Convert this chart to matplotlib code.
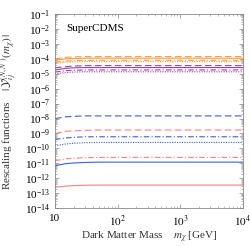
import matplotlib
matplotlib.use("Agg")
import matplotlib.pyplot as plt
import numpy as np

plt.rcParams['font.family'] = ['Liberation Serif', 'DejaVu Serif']
plt.rcParams['mathtext.fontset'] = 'stix'

# dark matter mass grid (GeV)
mass = [10, 15, 20, 30, 50, 100, 1e4]

# rescaling functions
orange_dash = [1.0e-4, 1.25e-4, 1.35e-4, 1.4e-4, 1.4e-4, 1.4e-4, 1.4e-4]
orange_solid = [8.0e-5, 1.0e-4, 1.05e-4, 1.1e-4, 1.1e-4, 1.1e-4, 1.1e-4]
orange_dashdot = [6.0e-5, 7.0e-5, 7.5e-5, 7.8e-5, 8.0e-5, 8.0e-5, 8.0e-5]
orange_dot = [5.0e-5, 6.0e-5, 6.3e-5, 6.5e-5, 6.5e-5, 6.5e-5, 6.5e-5]
purple_dash = [2.5e-5, 3.0e-5, 3.3e-5, 3.5e-5, 3.5e-5, 3.5e-5, 3.5e-5]
purple_solid = [1.8e-5, 2.3e-5, 2.5e-5, 2.6e-5, 2.6e-5, 2.6e-5, 2.6e-5]
purple_dashdot = [1.3e-5, 1.6e-5, 1.7e-5, 1.8e-5, 1.8e-5, 1.8e-5, 1.8e-5]
purple_dot = [1.0e-5, 1.2e-5, 1.3e-5, 1.35e-5, 1.35e-5, 1.35e-5, 1.35e-5]
blue_dash = [1.0e-8, 1.3e-8, 1.4e-8, 1.5e-8, 1.5e-8, 1.5e-8, 1.5e-8]
red_dash = [1.0e-9, 1.4e-9, 1.5e-9, 1.6e-9, 1.7e-9, 1.7e-9, 1.7e-9]
blue_dashdot = [4.0e-10, 5.0e-10, 5.5e-10, 6.0e-10, 6.0e-10, 6.0e-10, 6.0e-10]
blue_dot = [1.5e-10, 2.0e-10, 2.2e-10, 2.4e-10, 2.5e-10, 2.5e-10, 2.5e-10]
red_dashdot = [1.5e-11, 2.0e-11, 2.2e-11, 2.4e-11, 2.5e-11, 2.5e-11, 2.5e-11]
blue_solid = [7.0e-12, 9.5e-12, 1.05e-11, 1.15e-11, 1.2e-11, 1.2e-11, 1.2e-11]
red_solid = [2.5e-13, 3.0e-13, 3.2e-13, 3.4e-13, 3.5e-13, 3.5e-13, 3.5e-13]

orange = '#ff9a3a'
purple = '#a040a8'
blue = '#3a5ee0'
red = '#ff7f7f'

curves = [
    (orange_dash, orange, (0, (6, 3))),
    (orange_solid, orange, '-'),
    (orange_dashdot, orange, (0, (5, 2, 1, 2))),
    (orange_dot, orange, (0, (1, 1.2))),
    (purple_dash, purple, (0, (6, 3))),
    (purple_solid, purple, '-'),
    (purple_dashdot, purple, (0, (5, 2, 1, 2))),
    (purple_dot, purple, (0, (1, 1.2))),
    (blue_dash, blue, (0, (6, 3))),
    (red_dash, red, (0, (6, 3))),
    (blue_dashdot, blue, (0, (5, 2, 1, 2))),
    (blue_dot, blue, (0, (1, 1.2))),
    (red_dashdot, red, (0, (5, 2, 1, 2))),
    (blue_solid, blue, '-'),
    (red_solid, red, '-'),
]

fig = plt.figure(figsize=(2.51, 2.46), dpi=100)
ax = fig.add_axes([0.219, 0.154, 0.749, 0.789])

for vals, col, ls in curves:
    ax.plot(mass, vals, color=col, linestyle=ls, lw=0.8)

ax.set_xscale('log')
ax.set_yscale('log')
ax.set_xlim(10, 1e4)
ax.set_ylim(1e-14, 1e-1)
ax.set_yticks([10.0 ** k for k in range(-14, 0)])
ax.set_xticks([10, 100, 1000, 10000])
ax.set_xticklabels(['10', '$10^{2}$', '$10^{3}$', '$10^{4}$'])
ax.yaxis.set_minor_locator(matplotlib.ticker.LogLocator(base=10, subs=np.arange(2, 10), numticks=30))
ax.tick_params(which='both', direction='in', top=True, right=True, labelsize=8, color='#888888')
ax.tick_params(which='major', length=3, width=0.5)
ax.tick_params(which='minor', length=1.5, width=0.4)
ax.tick_params(axis='x', pad=4)
for s in ax.spines.values():
    s.set_linewidth(0.6)
    s.set_color('#888888')

ax.text(0.06, 0.95, 'SuperCDMS', transform=ax.transAxes, fontsize=8, va='top', ha='left')
ax.set_xlabel(r'Dark Matter Mass    $m_\chi$ [GeV]', fontsize=8, color='#333333', labelpad=1)
ax.set_ylabel(r'Rescaling functions    $|\,\mathcal{Y}_{ij}^{(N,N^{\prime})}(m_\chi)\,|$',
              fontsize=8, color='#333333')

fig.savefig('out.png', dpi=100)
